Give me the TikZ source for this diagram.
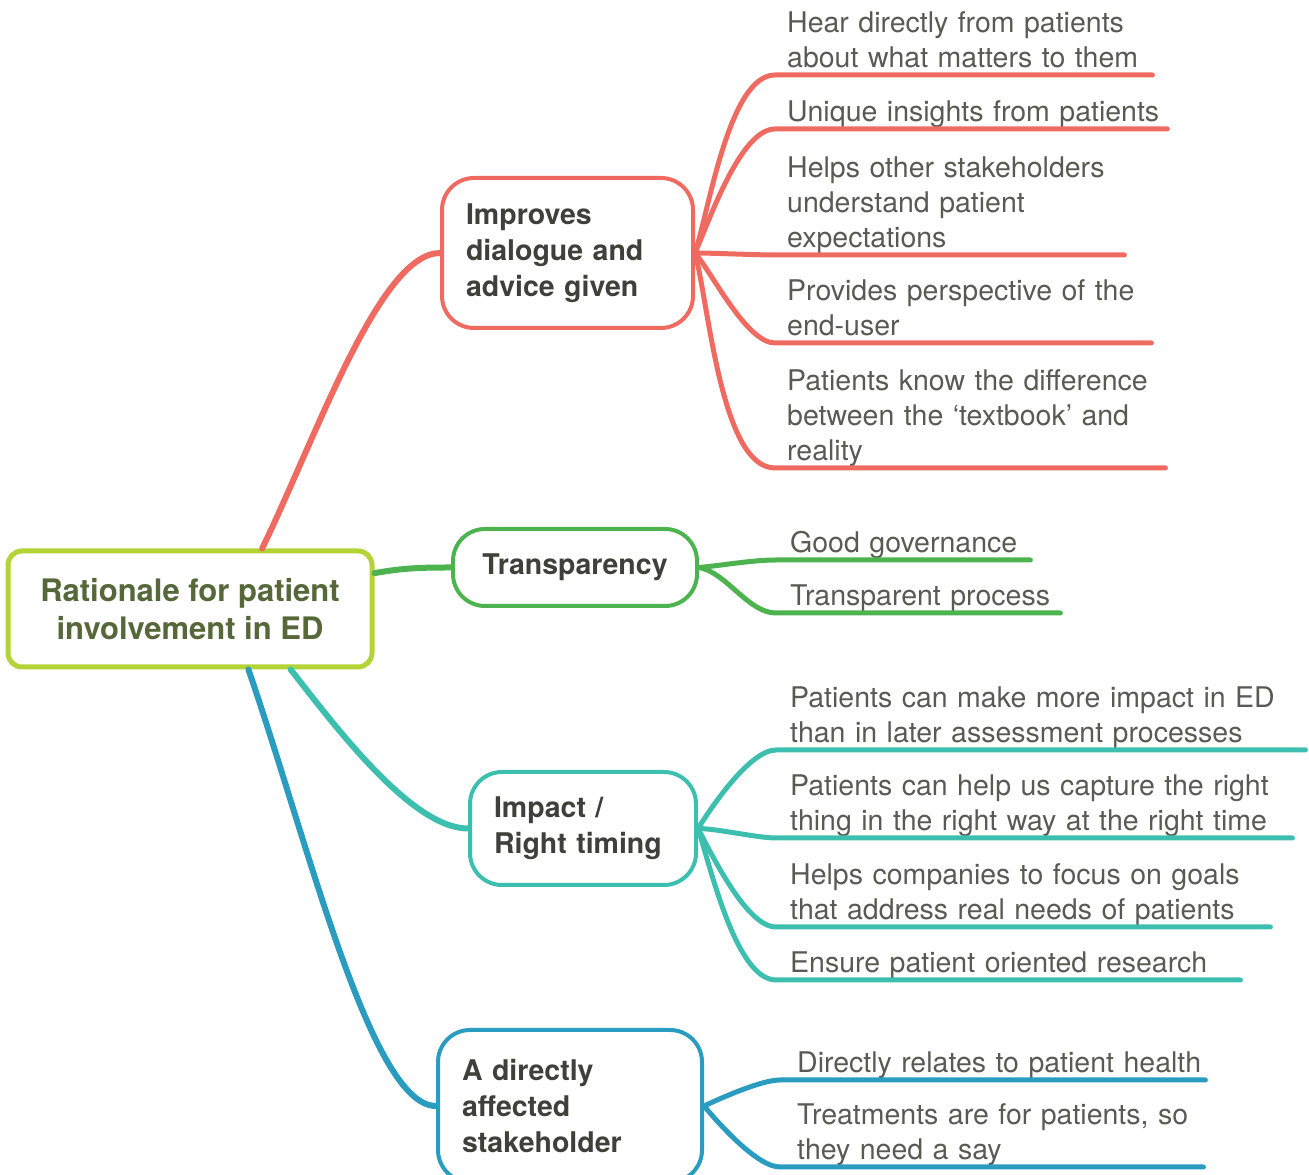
\documentclass[tikz,border=0pt]{standalone}
\usepackage{fontspec}
\setmainfont{TeX Gyre Heros}
\definecolor{mmred}{HTML}{EF6B61}
\definecolor{mmgreen}{HTML}{4DB34E}
\definecolor{mmteal}{HTML}{3DBFB0}
\definecolor{mmblue}{HTML}{2A9CBF}
\definecolor{mmlime}{HTML}{B3D336}
\definecolor{roottext}{HTML}{56673A}
\definecolor{branchtext}{HTML}{40403A}
\definecolor{leaftext}{HTML}{5A5A55}
\tikzset{
  rootbox/.style={draw=mmlime, line width=5pt, rounded corners=14pt, fill=white,
    minimum width=364pt, minimum height=116pt, align=center, text=roottext,
    font=\fontsize{31}{38}\selectfont\bfseries},
  branchbox/.style={draw=#1, line width=4pt, rounded corners=32pt, fill=white,
    inner xsep=24pt, align=left, text=branchtext,
    font=\fontsize{28.5}{36}\selectfont\bfseries},
  leaf/.style={inner xsep=0pt, inner ysep=0pt, anchor=south west,
    align=left, text=leaftext, font=\fontsize{28.5}{35}\selectfont,
    execute at end node={\rule[-7pt]{0pt}{7pt}}},
  twig/.style={draw=#1, line width=5pt, line cap=round},
  limb/.style={draw=#1, line width=6pt, line cap=round}
}
\begin{document}
\begin{tikzpicture}[x=1pt,y=1pt]
  \useasboundingbox (0,0) rectangle (1309,1175);
  % main topic and the four branches
  \node[rootbox] (root) at (190,566) {Rationale for patient\\involvement in ED};
  \node[branchbox=mmred, text width=203pt, minimum height=150pt] (dialog) at (567.5,922)
    {Improves\\dialogue and\\advice given};
  \node[branchbox=mmgreen, align=center, minimum width=244pt, minimum height=77pt] (transp) at (575,607.5)
    {Transparency};
  \node[branchbox=mmteal, text width=178pt, minimum height=113pt] (impact) at (583,346.5)
    {Impact /\\Right timing};
  \node[branchbox=mmblue, text width=216pt, minimum height=152pt] (affect) at (570,69)
    {A directly\\affected\\stakeholder};
  \draw[limb=mmred] (root.40) to[out=64,in=180,out looseness=0.9,in looseness=0.45] (dialog.west);
  \draw[limb=mmgreen] (root.11) to[out=10,in=180] (transp.west);
  \draw[limb=mmteal] (root.-31) to[out=-52,in=180,out looseness=0.8,in looseness=0.6] (impact.west);
  \draw[limb=mmblue] (root.-46) to[out=-71,in=180,out looseness=1,in looseness=0.35] (affect.west);
  % leaves of dialogue
  \node[leaf, text width=365pt] (d1) at (787,1100) {Hear directly from patients\\about what matters to them};
  \node[leaf, text width=380pt] (d2) at (787,1046) {Unique insights from patients};
  \node[leaf, text width=337pt] (d3) at (787,920) {Helps other stakeholders\\understand patient\\expectations};
  \node[leaf, text width=364pt] (d4) at (787,832) {Provides perspective of the\\end-user};
  \node[leaf, text width=378pt] (d5) at (787,707) {Patients know the difference\\between the ‘textbook’ and\\reality};
  \foreach \leafname/\ang in {d1/72,d2/66,d3/0,d4/-50,d5/-75}
    \draw[twig=mmred] (dialog.east) to[out=\ang,in=180,looseness=0.6] ([xshift=-12pt]\leafname.south west) -- (\leafname.south east);
  % leaves of transparency
  \node[leaf, text width=240pt] (p1) at (790,615) {Good governance};
  \node[leaf, text width=270pt] (p2) at (790,562) {Transparent process};
  \foreach \leafname/\ang in {p1/5,p2/-10}
    \draw[twig=mmgreen] (transp.east) to[out=\ang,in=180,looseness=0.8] ([xshift=-14pt]\leafname.south west) -- (\leafname.south east);
  % leaves of impact
  \node[leaf, text width=515pt] (i1) at (790,425) {Patients can make more impact in ED\\than in later assessment processes};
  \node[leaf, text width=502pt] (i2) at (790,337) {Patients can help us capture the right\\thing in the right way at the right time};
  \node[leaf, text width=480pt] (i3) at (790,248) {Helps companies to focus on goals\\that address real needs of patients};
  \node[leaf, text width=450pt] (i4) at (790,195) {Ensure patient oriented research};
  \foreach \leafname/\ang in {i1/58,i2/0,i3/-62,i4/-72}
    \draw[twig=mmteal] (impact.east) to[out=\ang,in=180,looseness=0.6] ([xshift=-14pt]\leafname.south west) -- (\leafname.south east);
  % leaves of stakeholder
  \node[leaf, text width=408pt] (a1) at (797,95) {Directly relates to patient health};
  \node[leaf, text width=406pt] (a2) at (797,8) {Treatments are for patients, so\\they need a say};
  \foreach \leafname/\ang in {a1/25,a2/-50}
    \draw[twig=mmblue] (affect.east) to[out=\ang,in=180,looseness=0.6] ([xshift=-17pt]\leafname.south west) -- (\leafname.south east);
\end{tikzpicture}
\end{document}
